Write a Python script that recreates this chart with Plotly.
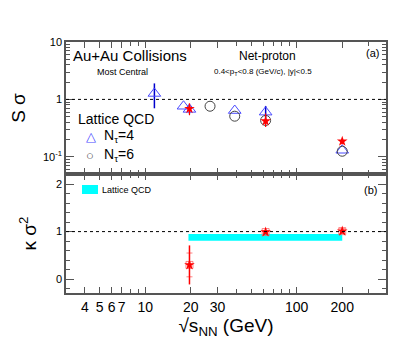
import plotly.graph_objects as go
from plotly.subplots import make_subplots

# energies (GeV)
e_nt4 = [11.5, 17.9, 19.6, 39, 62.4, 200]
s_nt4 = [1.27, 0.76, 0.67, 0.64, 0.60, 0.13]
s_nt4_err_hi = [0.63, 0, 0.12, 0, 0.17, 0]
s_nt4_err_lo = [0.57, 0, 0.10, 0, 0.12, 0]

e_nt6 = [26.8, 39, 62.4, 200]
s_nt6 = [0.76, 0.51, 0.43, 0.125]

e_data = [19.6, 62.4, 200]
s_data = [0.69, 0.42, 0.186]
s_data_hi = [0.16, 0.15, 0.02]
s_data_lo = [0.16, 0.09, 0.02]
s_data_sys = [0.06, 0.05, 0.015]

k_data = [0.30, 0.99, 1.01]
k_data_err = [0.41, 0.04, 0.04]
k_data_sys = [0.25, 0.03, 0.05]

band_x = [19.3, 200]
band_lo = [0.81, 0.81]
band_hi = [0.95, 0.95]

xtick_vals = [4, 5, 6, 7, 10, 20, 30, 100, 200]
xminor = [3, 8, 9, 40, 50, 60, 70, 80, 90, 300]

fig = make_subplots(rows=2, cols=1, shared_xaxes=True, vertical_spacing=0,
                    row_heights=[0.526, 0.474])

fig.add_trace(go.Scatter(x=e_nt4, y=s_nt4, mode='markers',
                         marker=dict(symbol='triangle-up-open', size=11, color='#4a4aff', line=dict(width=1)),
                         error_y=dict(type='data', symmetric=False, array=s_nt4_err_hi,
                                      arrayminus=s_nt4_err_lo, color='#0000cc', thickness=1.5, width=0)),
              row=1, col=1)
fig.add_trace(go.Scatter(x=e_nt6, y=s_nt6, mode='markers',
                         marker=dict(symbol='circle-open', size=10, color='#444', line=dict(width=1))),
              row=1, col=1)
fig.add_trace(go.Scatter(x=e_data, y=s_data, mode='markers',
                         marker=dict(symbol='square', size=7, color='rgba(255,0,255,0)'),
                         error_y=dict(type='data', array=s_data_sys, color='#ff66ff', thickness=1, width=0)),
              row=1, col=1)
fig.add_trace(go.Scatter(x=e_data, y=s_data, mode='markers',
                         marker=dict(symbol='star', size=8, color='red'),
                         error_y=dict(type='data', symmetric=False, array=s_data_hi,
                                      arrayminus=s_data_lo, color='red', thickness=1.2, width=0)),
              row=1, col=1)

# lattice band
fig.add_trace(go.Scatter(x=band_x + band_x[::-1], y=band_hi + band_lo[::-1], fill='toself',
                         fillcolor='cyan', line=dict(width=0), mode='lines'),
              row=2, col=1)
fig.add_trace(go.Scatter(x=e_data, y=k_data, mode='markers',
                         marker=dict(symbol='square-open', size=7, color='rgba(255,100,100,0.8)'),
                         error_y=dict(type='data', array=k_data_sys, color='rgba(255,100,100,0.8)',
                                      thickness=1, width=3)),
              row=2, col=1)
fig.add_trace(go.Scatter(x=e_data, y=k_data, mode='markers',
                         marker=dict(symbol='star', size=8, color='red'),
                         error_y=dict(type='data', array=k_data_err, color='red', thickness=1.5, width=0)),
              row=2, col=1)

for r in (1, 2):
    fig.add_hline(y=1, line=dict(color='black', width=1, dash='dot'), row=r, col=1)

axcol = '#555'
xcommon = dict(type='log', range=[0.477, 2.59], showline=True, linecolor=axcol, linewidth=1.5,
               mirror='ticks', ticks='inside', ticklen=6, tickcolor=axcol, tickvals=xtick_vals,
               showgrid=False, zeroline=False, automargin=False,
               minor=dict(ticks='inside', ticklen=4, tickcolor=axcol, tickvals=xminor, showgrid=False))
fig.update_xaxes(**xcommon, showticklabels=False, row=1, col=1)
fig.update_xaxes(**xcommon, showticklabels=True, tickfont=dict(size=14, color='black'),
                 title=dict(text='√s<sub>NN</sub> (GeV)', font=dict(size=19, color='black'), standoff=4),
                 row=2, col=1)

fig.update_yaxes(type='log', range=[-1.3, 1.0], showline=True, linecolor=axcol, linewidth=1.5,
                 mirror='ticks', ticks='inside', ticklen=8, tickcolor=axcol, automargin=False,
                 tickvals=[0.1, 1, 10], ticktext=['10<sup>-1</sup>', '1', '10'],
                 tickfont=dict(size=11, color='black'), showgrid=False, zeroline=False,
                 minor=dict(ticks='inside', ticklen=4, tickcolor=axcol, showgrid=False,
                            tickvals=[0.06, 0.07, 0.08, 0.09, 0.2, 0.3, 0.4, 0.5, 0.6, 0.7, 0.8, 0.9,
                                      2, 3, 4, 5, 6, 7, 8, 9]),
                 title=dict(text='S σ', font=dict(size=19, color='black'), standoff=14),
                 row=1, col=1)
fig.update_yaxes(range=[-0.29, 2.21], showline=True, linecolor=axcol, linewidth=1.5,
                 mirror='ticks', ticks='inside', ticklen=8, tickcolor=axcol, automargin=False,
                 tickvals=[0, 1, 2], tickfont=dict(size=11, color='black'), showgrid=False, zeroline=False,
                 minor=dict(ticks='inside', ticklen=4, tickcolor=axcol, dtick=0.2, showgrid=False),
                 title=dict(text='κ σ<sup>2</sup>', font=dict(size=19, color='black'), standoff=14),
                 row=2, col=1)

def px(x, y):
    return (x - 66) / 320, (293 - y) / 251

def ann(text, x, y, size, color='black'):
    fig.add_annotation(text=text, x=px(x, y)[0], y=px(x, y)[1], xref='paper', yref='paper',
                       showarrow=False, xanchor='left', yanchor='middle',
                       font=dict(size=size, color=color))

ann('Au+Au Collisions', 71, 56, 15)
ann('Most Central', 95, 72, 9)
ann('Net-proton', 237, 56, 12)
ann('0.4<p<sub>T</sub><0.8 (GeV/c), |y|<0.5', 212, 72, 8)
ann('(a)', 364, 53, 11)
ann('(b)', 362, 190, 11)
ann('Lattice QCD', 100, 190, 9)

# top legend
ann('Lattice QCD', 76, 119, 14)
ann('△', 84, 136, 13, '#4a4aff')
ann('○', 84, 155, 13, '#444')
ann('N<sub>τ</sub>=4', 102, 136, 14)
ann('N<sub>τ</sub>=6', 102, 155, 14)

lx0, ly0 = px(82, 185)
lx1, ly1 = px(98, 194)
fig.add_shape(type='rect', xref='paper', yref='paper', x0=lx0, x1=lx1, y0=ly1, y1=ly0,
              fillcolor='cyan', line=dict(width=0))

# page body has an 8px margin, so the figure is shrunk by 8px
fig.update_layout(
    width=402, height=342, plot_bgcolor='white', paper_bgcolor='white',
    margin=dict(l=58, r=24, t=34, b=57),
    font=dict(family='Liberation Sans, Arial', color='black'),
    showlegend=False,
)

fig.write_html("out.html")
